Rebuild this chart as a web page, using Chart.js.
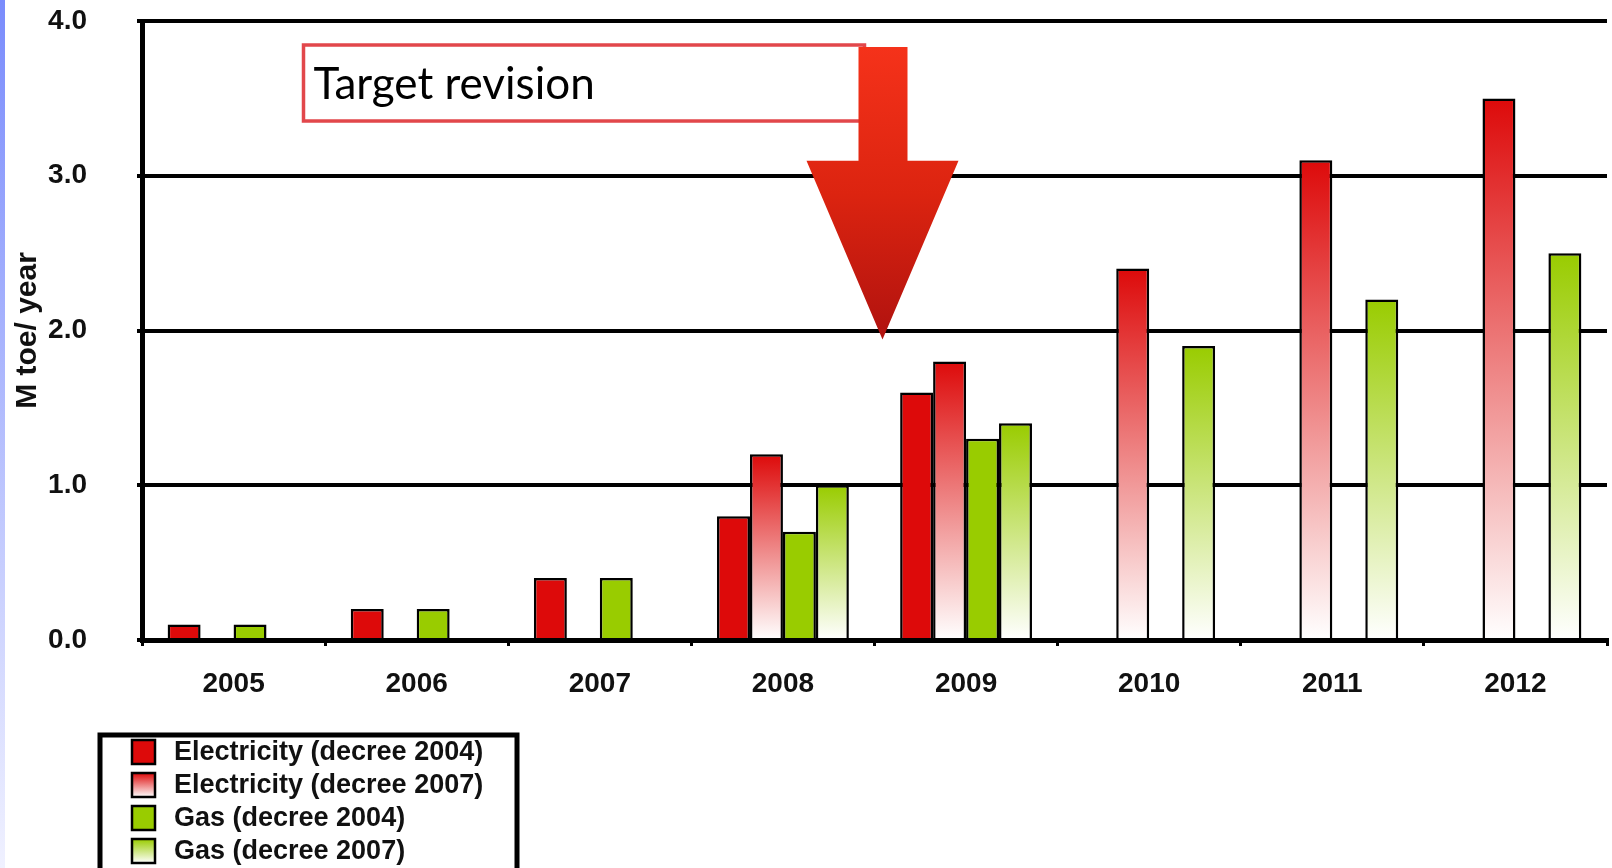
<!DOCTYPE html>
<html>
<head>
<meta charset="utf-8">
<title>Target revision</title>
<script src="https://cdn.jsdelivr.net/npm/chart.js@4.4.1/dist/chart.umd.min.js"></script>
<style>
    html, body { margin: 0; padding: 0; background: #fff; }
    .strip { position: absolute; left: 0; top: 0; width: 5px; height: 868px; background: linear-gradient(#7a8cfc, #f0f1ff); }
    canvas { display: block; }
</style>
</head>
<body>
<div class="strip"></div>
<canvas id="myChart" width="1612" height="868"></canvas>
<script>
// data
const years = ['2005', '2006', '2007', '2008', '2009', '2010', '2011', '2012'];
const elec2004 = [0.1, 0.2, 0.4, 0.8, 1.6, null, null, null];
const elec2007 = [null, null, null, 1.2, 1.8, 2.4, 3.1, 3.5];
const gas2004 = [0.1, 0.2, 0.4, 0.7, 1.3, null, null, null];
const gas2007 = [null, null, null, 1.0, 1.4, 1.9, 2.2, 2.5];
const yTicks = [0, 1, 2, 3, 4];
const seriesNames = ['Electricity (decree 2004)', 'Electricity (decree 2007)', 'Gas (decree 2004)', 'Gas (decree 2007)'];
const yTitle = 'M toe/ year';
const noteText = 'Target revision';

const RED = '#dd0a0a';
const GREEN = '#99cc00';
const tickFont = { family: '"Liberation Sans", Arial, sans-serif', weight: 'bold', size: 28 };

// gradient from full colour at the bar top to white at the base
function fade(color) {
    return function (c) {
        const chart = c.chart;
        const y = chart.scales.y;
        if (!chart.chartArea || !y || c.type !== 'data' || !c.parsed || c.parsed.y == null) return color;
        const top = y.getPixelForValue(c.parsed.y);
        const base = y.getPixelForValue(0);
        const g = chart.ctx.createLinearGradient(0, top, 0, base);
        g.addColorStop(0, color);
        g.addColorStop(1, '#ffffff');
        return g;
    };
}

const legendBox = {
    id: 'legendBox',
    afterDraw(chart) {
        const ctx = chart.ctx;
        ctx.save();
        ctx.lineWidth = 5;
        ctx.strokeStyle = '#000';
        ctx.strokeRect(100, 735, 417, 160);
        ctx.font = 'bold 27px "Liberation Sans", Arial, sans-serif';
        ctx.textBaseline = 'middle';
        ctx.fillStyle = '#111';
        chart.data.datasets.forEach((ds, i) => {
            const cy = 752 + i * 33;
            let fill = ds.baseColor;
            if (ds.faded) {
                fill = ctx.createLinearGradient(0, cy - 12, 0, cy + 12);
                fill.addColorStop(0, ds.baseColor);
                fill.addColorStop(1, '#ffffff');
            }
            ctx.fillStyle = fill;
            ctx.fillRect(132, cy - 12, 23, 24);
            ctx.lineWidth = 2.5;
            ctx.strokeRect(132, cy - 12, 23, 24);
            ctx.fillStyle = '#111';
            ctx.fillText(ds.label, 174, cy + 1);
        });
        ctx.restore();
    }
};

const noteArrow = {
    id: 'noteArrow',
    afterDraw(chart) {
        const ctx = chart.ctx;
        const x = chart.scales.x, y = chart.scales.y;
        const tipX = (x.getPixelForValue(3) + x.getPixelForValue(4)) / 2 + 8;
        const tipY = y.getPixelForValue(2) + 9;
        const headY = y.getPixelForValue(3) - 15;
        const topY = y.getPixelForValue(4) + 26;
        ctx.save();

        // text box
        const bx = tipX - 579, by = topY - 2, bw = 561, bh = 76;
        ctx.fillStyle = '#fff';
        ctx.fillRect(bx, by, bw, bh);
        ctx.lineWidth = 3.5;
        ctx.strokeStyle = '#e2474b';
        ctx.strokeRect(bx, by, bw, bh);
        let size = 40;
        ctx.font = size + 'px Lato, "Open Sans", sans-serif';
        size = size * 281 / ctx.measureText(noteText).width;
        ctx.font = size.toFixed(1) + 'px Lato, "Open Sans", sans-serif';
        ctx.fillStyle = '#000';
        ctx.textBaseline = 'alphabetic';
        ctx.fillText(noteText, bx + 10, by + 54);

        // arrow
        const g = ctx.createLinearGradient(0, topY, 0, tipY);
        g.addColorStop(0, '#f5321a');
        g.addColorStop(0.5, '#dc2410');
        g.addColorStop(1, '#b0120f');
        ctx.fillStyle = g;
        ctx.beginPath();
        ctx.moveTo(tipX - 24, topY);
        ctx.lineTo(tipX + 25, topY);
        ctx.lineTo(tipX + 25, headY);
        ctx.lineTo(tipX + 76, headY);
        ctx.lineTo(tipX, tipY);
        ctx.lineTo(tipX - 76, headY);
        ctx.lineTo(tipX - 24, headY);
        ctx.closePath();
        ctx.fill();
        ctx.restore();
    }
};

const ctx = document.getElementById('myChart');

new Chart(ctx, {
    type: 'bar',
    data: {
        labels: years,
        datasets: [
            { label: seriesNames[0], data: elec2004, baseColor: RED, faded: false, backgroundColor: RED },
            { label: seriesNames[1], data: elec2007, baseColor: RED, faded: true, backgroundColor: fade(RED) },
            { label: seriesNames[2], data: gas2004, baseColor: GREEN, faded: false, backgroundColor: GREEN },
            { label: seriesNames[3], data: gas2007, baseColor: GREEN, faded: true, backgroundColor: fade(GREEN) }
        ]
    },
    options: {
        responsive: false,
        animation: false,
        layout: { padding: { left: 0, top: 21, right: 5, bottom: 168 } },
        datasets: {
            bar: {
                borderColor: '#000',
                borderWidth: 2.5,
                barPercentage: 1,
                categoryPercentage: 0.72
            }
        },
        plugins: {
            legend: { display: false },
            tooltip: { enabled: false }
        },
        scales: {
            x: {
                afterFit: (s) => { s.height = 60; },
                grid: { display: true, drawOnChartArea: false, offset: true, color: '#000', lineWidth: 3, tickLength: 6 },
                border: { display: true, color: '#000', width: 5 },
                ticks: { color: '#111', font: tickFont, padding: 21 }
            },
            y: {
                min: yTicks[0],
                max: yTicks[yTicks.length - 1],
                afterFit: (s) => {
                    s.width = 142;
                    // big tick padding would otherwise push the plot top down
                    s.paddingTop = 0;
                    s.paddingBottom = 0;
                },
                grid: { color: '#000', lineWidth: 4, tickLength: 5 },
                border: { display: true, color: '#000', width: 5 },
                ticks: {
                    stepSize: 1,
                    color: '#111',
                    font: tickFont,
                    padding: 50,
                    callback: (v) => Number(v).toFixed(1)
                },
                title: {
                    display: true,
                    text: yTitle,
                    color: '#111',
                    font: { family: '"Liberation Sans", Arial, sans-serif', weight: 'bold', size: 30 },
                    padding: { top: 10, bottom: 0 }
                }
            }
        }
    },
    plugins: [legendBox, noteArrow]
});
</script>
</body>
</html>
